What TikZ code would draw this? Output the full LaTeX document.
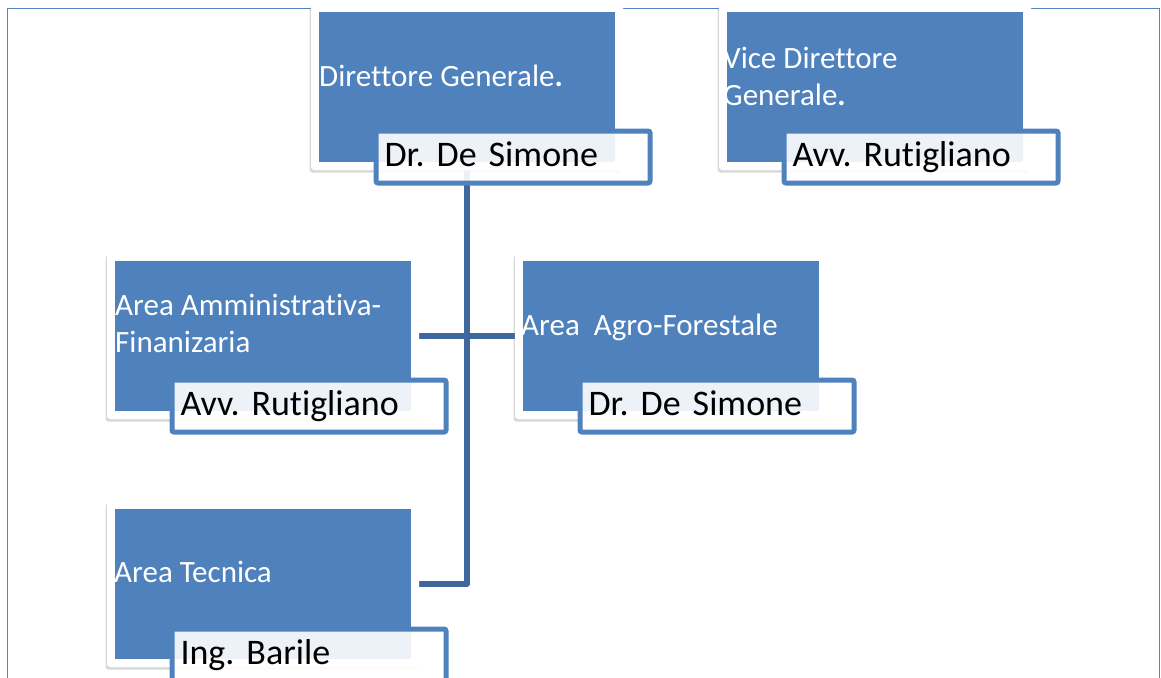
\documentclass[tikz,border=0pt]{standalone}
\usepackage{fontspec}
\setmainfont{Carlito}[Ligatures=NoCommon]
\usetikzlibrary{shadows}
\definecolor{accent}{RGB}{79,129,189}
\definecolor{conn}{RGB}{62,104,158}
\definecolor{framec}{RGB}{84,132,196}
\pgfdeclarelayer{bg}
\pgfsetlayers{bg,main}
\frenchspacing
\tikzset{
  card/.style={rectangle, fill=white, rounded corners=3pt, minimum width=312pt, minimum height=166pt, inner sep=0pt,
    drop shadow={shadow xshift=-1.5pt, shadow yshift=-2.5pt, opacity=0.3}},
  bluebox/.style={rectangle, fill=accent, minimum width=296pt, minimum height=150pt, inner sep=0pt},
  title/.style={anchor=base west, inner sep=0pt, text=white, font=\fontsize{31}{37}\selectfont},
  namebox/.style={rectangle, draw=accent, line width=5pt, fill=white, fill opacity=0.9, text opacity=1,
    rounded corners=2pt, minimum width=274pt, minimum height=52pt, text width=257pt, align=left,
    inner xsep=8.5pt, inner ysep=0pt, text height=27pt, text depth=8pt, font=\fontsize{36}{43}\selectfont\frenchspacing},
  connector/.style={draw=conn, line width=5.5pt, line join=round},
  outerframe/.style={draw=framec, line width=1.5pt}
}
\begin{document}
\begin{tikzpicture}[x=1pt,y=-1pt]
\useasboundingbox (0,0) rectangle (1161,677);
% cards
\node[card] (c1) at (467,87) {};
\node[bluebox] (b1) at (467,87) {};
\node[card] (c2) at (875,87) {};
\node[bluebox] (b2) at (875,87) {};
\node[card] (c3) at (263,336) {};
\node[bluebox] (b3) at (263,336) {};
\node[card] (c4) at (671,336) {};
\node[bluebox] (b4) at (671,336) {};
\node[card] (c5) at (263,584) {};
\node[bluebox] (b5) at (263,584) {};
% titles
\node[title] (t1) at (319,86) {Direttore Generale\textbf{.}};
\node[title] (t2) at (723,68) {\begin{tabular}[t]{@{}l@{}}Vice Direttore\\Generale\textbf{.}\end{tabular}};
\node[title] (t3) at (115,315) {\begin{tabular}[t]{@{}l@{}}Area Amministrativa-\\Finanizaria\end{tabular}};
\node[title] (t4) at (521,335) {Area\ \ Agro-Forestale};
\node[title] (t5) at (114,582) {Area Tecnica};
% names
\node[namebox] (n1) at (513,157) {Dr. De Simone};
\node[namebox] (n2) at (921,157) {Avv. Rutigliano};
\node[namebox] (n3) at (309,406) {Avv. Rutigliano};
\node[namebox] (n4) at (717,406) {Dr. De Simone};
\node[namebox] (n5) at (309,655) {Ing. Barile};
\begin{pgfonlayer}{bg}
\draw[outerframe] (7.5,8.3) rectangle (1159.5,700);
\draw[connector] (c1.south) |- (c5.east);
\draw[connector] (c3.east) -- (c4.west);
\end{pgfonlayer}
\end{tikzpicture}
\end{document}
